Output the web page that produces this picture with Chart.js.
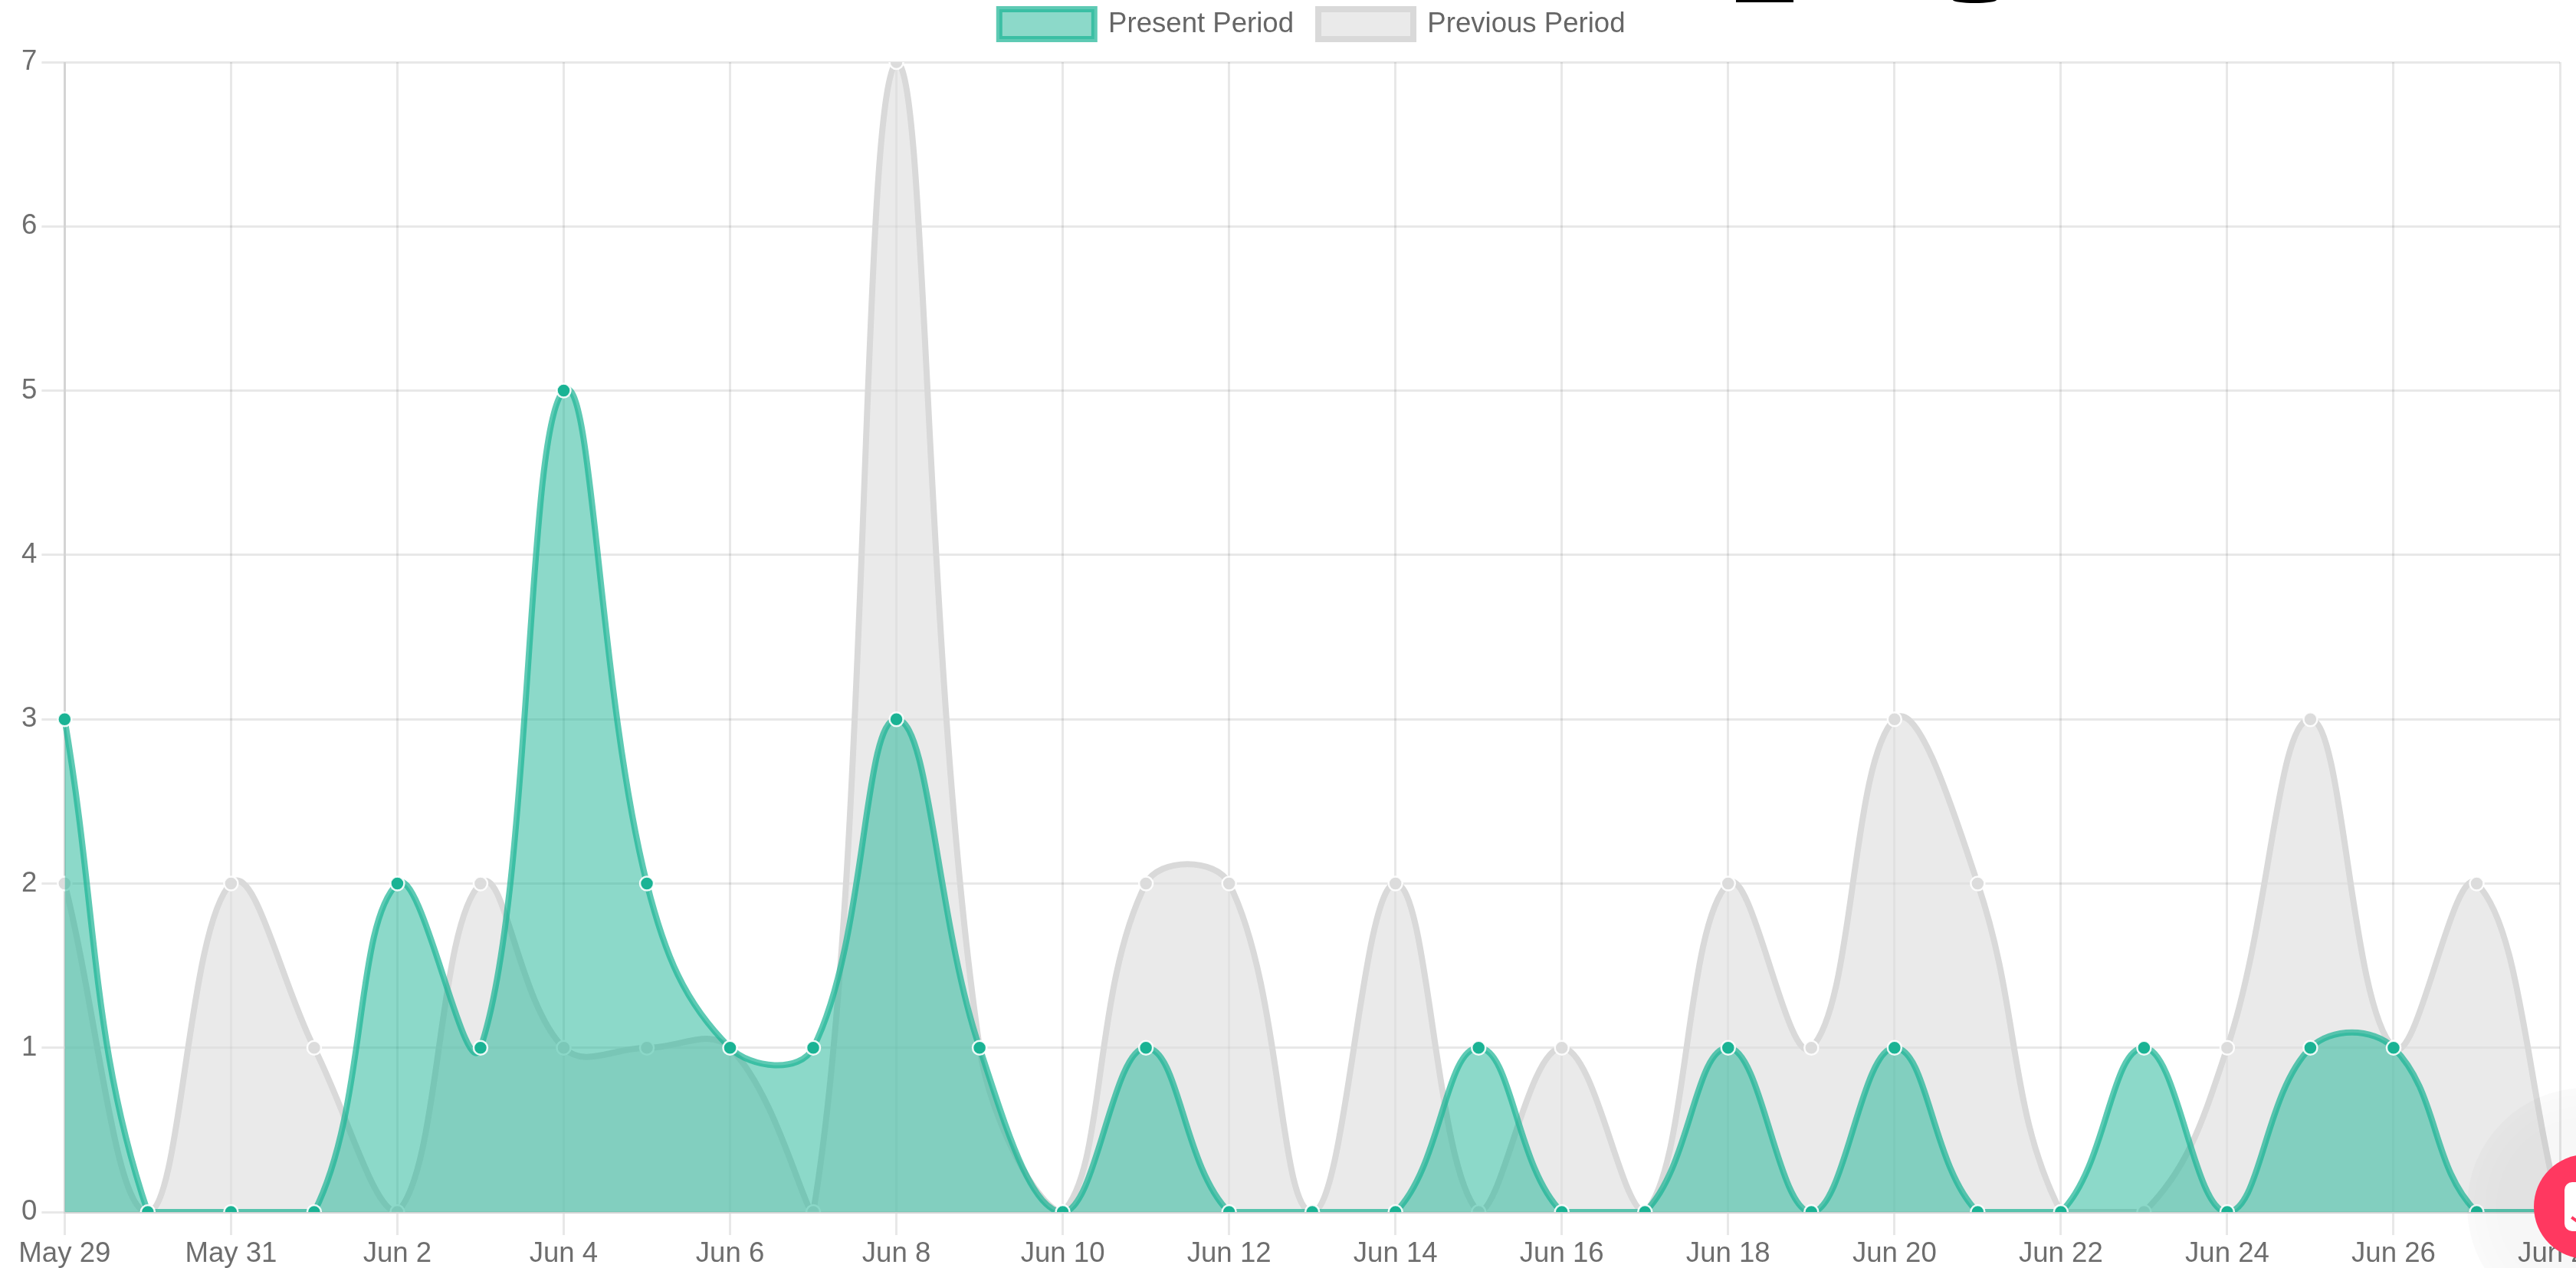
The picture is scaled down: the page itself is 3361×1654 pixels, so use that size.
<!DOCTYPE html>
<html><head><meta charset="utf-8">
<script src="https://cdn.jsdelivr.net/npm/chart.js@4"></script>
<style>
html,body{margin:0;padding:0;background:#fff;width:3361px;height:1654px;overflow:hidden;position:relative}
#wrap{position:absolute;left:0;top:-20px;width:3518px;height:1681px}
#shadow{position:absolute;left:3219px;top:1419px;width:310px;height:310px;border-radius:50%;background:radial-gradient(circle,rgba(0,0,0,.03) 50%,rgba(0,0,0,.02) 70%,rgba(0,0,0,.01) 85%,rgba(0,0,0,0) 100%)}
#btn{position:absolute;left:3306px;top:1506px;width:136px;height:136px;border-radius:50%;background:#ff3860}
#ico{position:absolute;left:3346px;top:1542px;width:40px;height:64px;border-radius:10px 0 0 10px;background:#fff}
#tick{position:absolute;left:3354px;top:1590px;width:14px;height:4px;background:#ff3860;transform:rotate(35deg)}
.cut{position:absolute;background:#000}
</style></head><body>
<div id="wrap"><canvas id="c"></canvas></div>
<div class="cut" style="left:2265px;top:0;width:75px;height:3px"></div>
<div class="cut" style="left:2548px;top:0;width:57px;height:4px;border-radius:0 0 50% 50%/0 0 100% 100%"></div>
<div id="shadow"></div><div id="btn"></div><div id="ico"></div><div id="tick"></div>
<script>
const categories=["May 29","May 30","May 31","Jun 1","Jun 2","Jun 3","Jun 4","Jun 5","Jun 6","Jun 7","Jun 8","Jun 9","Jun 10","Jun 11","Jun 12","Jun 13","Jun 14","Jun 15","Jun 16","Jun 17","Jun 18","Jun 19","Jun 20","Jun 21","Jun 22","Jun 23","Jun 24","Jun 25","Jun 26","Jun 27","Jun 28"];
const presentPeriod=[3,0,0,0,2,1,5,2,1,1,3,1,0,1,0,0,0,1,0,0,1,0,1,0,0,1,0,1,1,0,0];
const previousPeriod=[2,0,2,1,0,2,1,1,1,0,7,1,0,2,2,0,2,0,1,0,2,1,3,2,0,0,1,3,1,2,0];
const font={family:'"Liberation Sans",Arial,sans-serif',size:36.6};
const legendGap={id:'legendGap',beforeLayout(chart){
  const l=chart.legend; if(!l||l._gapped)return; l._gapped=true;
  const fit=l.fit; l.fit=function(){fit.call(this);this.height+=20;};
}};
new Chart(document.getElementById('c'),{
 type:'line',
 plugins:[legendGap],
 data:{labels:categories,datasets:[
  {label:'Present Period',data:presentPeriod,fill:'origin',tension:0.4,borderWidth:8,
   backgroundColor:'rgba(26,179,148,0.5)',borderColor:'rgba(26,179,148,0.7)',
   pointBackgroundColor:'rgba(26,179,148,1)',pointBorderColor:'rgba(255,255,255,0.9)',pointRadius:9,pointBorderWidth:2.5},
  {label:'Previous Period',data:previousPeriod,fill:'origin',tension:0.4,borderWidth:8,
   backgroundColor:'rgba(220,220,220,0.6)',borderColor:'rgba(217,217,217,1)',
   pointBackgroundColor:'rgba(220,220,220,1)',pointBorderColor:'rgba(255,255,255,0.9)',pointRadius:9,pointBorderWidth:2.5}
 ]},
 options:{responsive:true,maintainAspectRatio:false,animation:false,devicePixelRatio:1,
  layout:{padding:{left:22,right:178,top:0,bottom:0}},
  plugins:{tooltip:{enabled:false},
   legend:{position:'top',fullSize:false,labels:{boxWidth:124,boxHeight:39,padding:32,color:'#666',font}}},
  scales:{
   x:{grid:{color:'rgba(0,0,0,0.09)',lineWidth:3,tickLength:30},border:{color:'rgba(0,0,0,0.09)',width:3},
      afterBuildTicks:a=>{a.ticks=a.ticks.filter(t=>t.value%2===0)},
      ticks:{autoSkip:false,maxRotation:0,minRotation:0,padding:3,color:'#6e6e6e',font}},
   y:{min:0,max:7,grid:{color:'rgba(0,0,0,0.09)',lineWidth:3,tickLength:30},border:{color:'rgba(0,0,0,0.09)',width:3},
      ticks:{stepSize:1,padding:6,color:'#6e6e6e',font}}
  }}
});
</script></body></html>
